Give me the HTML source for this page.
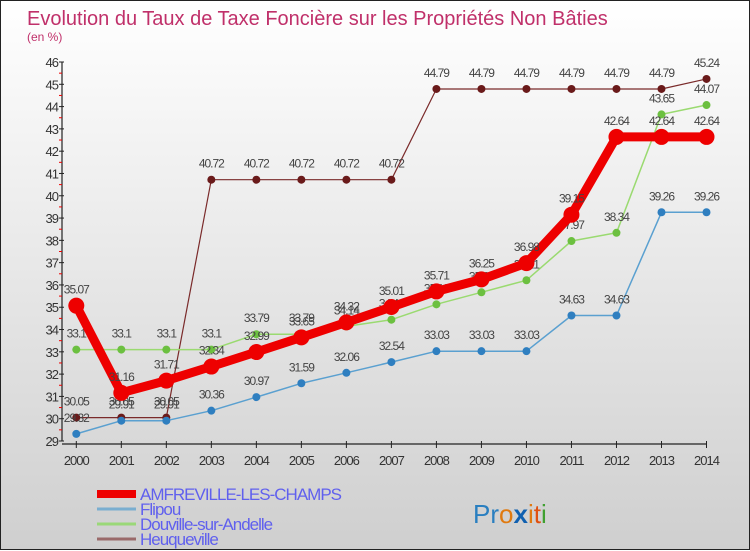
<!DOCTYPE html>
<html><head><meta charset="utf-8">
<style>
html,body{margin:0;padding:0}
body{width:750px;height:550px;overflow:hidden;font-family:"Liberation Sans",sans-serif}
#wrap{position:relative;width:748px;height:548px;border:1px solid #222;background:linear-gradient(#ffffff,#cfcfcf)}
svg{position:absolute;left:0;top:0}
</style></head><body>
<div id="wrap">
<svg id="chart" width="750" height="550">
<text x="26" y="24" font-size="20" fill="#c0306a">Evolution du Taux de Taxe Foncière sur les Propriétés Non Bâties</text>
<text x="26" y="40" font-size="12" fill="#c0306a">(en %)</text>
<g id="axes"></g><g id="series"></g>
<g id="legend"></g>
<text x="472" y="522" font-size="26"><tspan fill="#2a7fc0">Pr</tspan><tspan fill="#e07a10">o</tspan><tspan fill="#1060b0" font-weight="bold">x</tspan><tspan fill="#e07a10">i</tspan><tspan fill="#e05010">t</tspan><tspan fill="#40a030">i</tspan></text>
</svg>
</div>
<script>
const years=[2000,2001,2002,2003,2004,2005,2006,2007,2008,2009,2010,2011,2012,2013,2014];
const yTicks=[29,30,31,32,33,34,35,36,37,38,39,40,41,42,43,44,45,46];
const amfreville=[35.07,31.16,31.71,32.34,32.99,33.65,34.32,35.01,35.71,36.25,36.98,39.15,42.64,42.64,42.64];
const flipou=[29.32,29.91,29.91,30.36,30.97,31.59,32.06,32.54,33.03,33.03,33.03,34.63,34.63,39.26,39.26];
const douville=[33.1,33.1,33.1,33.1,33.79,33.79,34.14,34.44,35.13,35.67,36.21,37.97,38.34,43.65,44.07];
const heuqueville=[30.05,30.05,30.05,40.72,40.72,40.72,40.72,40.72,44.79,44.79,44.79,44.79,44.79,44.79,45.24];
const seriesNames=["AMFREVILLE-LES-CHAMPS","Flipou","Douville-sur-Andelle","Heuqueville"];

const NS="http://www.w3.org/2000/svg";
const X0=75.3,X1=705.5,Y0=440,Y1=61,YMIN=29,YMAX=46;
const xs=i=>X0+(X1-X0)*i/(years.length-1);
const ys=v=>Y0-(v-YMIN)*(Y0-Y1)/(YMAX-YMIN);
function mk(tag,attrs,parent,txt){const e=document.createElementNS(NS,tag);for(const k in attrs)e.setAttribute(k,attrs[k]);if(txt!==undefined)e.textContent=txt;parent.appendChild(e);return e;}
const axes=document.getElementById('axes');
let e=mk('line',{x1:61,y1:Y1,x2:61,y2:Y0,stroke:'#222','stroke-width':1.2},axes);


e=mk('line',{x1:61,y1:Y0+3,x2:X1,y2:Y0+3,stroke:'#222','stroke-width':1.2},axes);


yTicks.forEach(t=>{const y=ys(t);
 mk('line',{x1:58,y1:y,x2:63,y2:y,stroke:'#222'},axes);
 if(t<YMAX)mk('line',{x1:58,y1:y-11.15,x2:61,y2:y-11.15,stroke:'#e00'},axes);
 e=mk('text',{x:57,y:y+5,'font-size':13,fill:'#333','text-anchor':'end','letter-spacing':'-1'},axes,String(t));
 
 
});
years.forEach((yr,i)=>{const x=xs(i);
 mk('line',{x1:x,y1:Y0,x2:x,y2:Y0+7,stroke:'#222'},axes);
 e=mk('text',{x:x,y:Y0+24,'font-size':13,fill:'#333','text-anchor':'middle','letter-spacing':'-1'},axes,String(yr));
 
 
});
const sg=document.getElementById('series');
const defs=[[heuqueville,'#7a2a2a','#6a1a1a',1.2,4],[flipou,'#5aa0d0','#2f7fc0',1.5,4],[douville,'#9ada70','#6cc040',1.5,4],[amfreville,'#ee0000','#ee0000',9,8]];
const order=[3,1,2,0];
defs.forEach((d,k)=>{const [vals,lc,pc,w,r]=d;const g=mk('g',{},sg);
 
 
 const pts=vals.map((v,i)=>xs(i).toFixed(1)+','+ys(v).toFixed(1)).join(' ');
 mk('polyline',{points:pts,fill:'none',stroke:lc,'stroke-width':w,'stroke-linejoin':'round'},g);
 vals.forEach((v,i)=>{const c=mk('circle',{cx:xs(i),cy:ys(v),r:r,fill:pc},g);
  
  
  const t=mk('text',{x:xs(i),y:ys(v)-12,'font-size':12,fill:'#444','text-anchor':'middle','letter-spacing':'-1'},g,String(v));
  
  
 });
});
const lg=document.getElementById('legend');
const lcol=['#ee0000','#7aaed0','#9ad878','#9a6a6a'],lw=[8,3,3,3];
seriesNames.forEach((n,i)=>{const y=493+i*15;
 const g=mk('g',{},lg);
 
 
 mk('line',{x1:96,y1:y,x2:135,y2:y,stroke:lcol[i],'stroke-width':lw[i]},g);
 mk('text',{x:139,y:y+6,'font-size':17,fill:'#6060ee','letter-spacing':'-1'},g,n);
});
</script>
</body></html>
